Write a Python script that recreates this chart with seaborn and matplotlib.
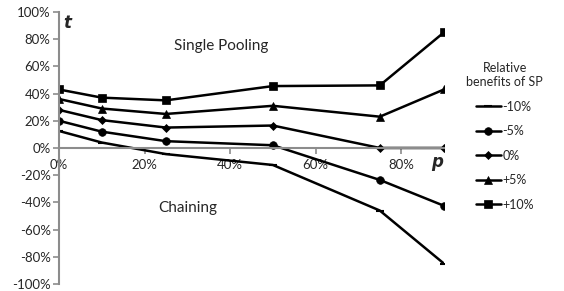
import pandas as pd
import numpy as np
import matplotlib.pyplot as plt
import seaborn as sns

# share of p (x axis)
p_values = [0.0, 0.10, 0.25, 0.50, 0.75, 0.90]

# t values for each relative benefit of SP
minus10 = [0.125, 0.04, -0.045, -0.125, -0.46, -0.85]
minus5 = [0.20, 0.12, 0.05, 0.02, -0.235, -0.425]
zero = [0.28, 0.205, 0.15, 0.165, 0.0, 0.0]
plus5 = [0.36, 0.29, 0.25, 0.31, 0.23, 0.43]
plus10 = [0.43, 0.37, 0.35, 0.455, 0.46, 0.85]

series_names = ["-10%", "-5%", "0%", "+5%", "+10%"]
series_values = [minus10, minus5, zero, plus5, plus10]

rows = []
for name, vals in zip(series_names, series_values):
    for p, t in zip(p_values, vals):
        rows.append({"p": p, "t": t, "series": name})
df = pd.DataFrame(rows)

sns.set_style("white")
plt.rcParams['font.family'] = ['Lato', 'DejaVu Sans']

fig = plt.figure(figsize=(5.64, 2.91), dpi=100)
ax = fig.add_axes([0.1046, 0.024, 0.6826, 0.935])

marker_map = {"-10%": "_", "-5%": "o", "0%": "D", "+5%": "^", "+10%": "s"}
size_map = {"-10%": 6, "-5%": 5.5, "0%": 4, "+5%": 5.5, "+10%": 5.5}

for name in series_names:
    sub = df[df["series"] == name]
    sns.lineplot(data=sub, x="p", y="t", ax=ax, color="black", lw=1.8,
                 marker=marker_map[name], markersize=size_map[name],
                 markeredgewidth=1.5 if name == "-10%" else 0.5,
                 markeredgecolor="black", label=name)

ax.set_xlim(0, 0.9)
ax.set_ylim(-1.0, 1.0)
ax.set_xlabel("")
ax.set_ylabel("")

gray = "#8c8c8c"
for s in ["top", "right"]:
    ax.spines[s].set_visible(False)
ax.spines["left"].set_color(gray)
ax.spines["left"].set_linewidth(1.5)
ax.spines["bottom"].set_position(("data", 0))
ax.spines["bottom"].set_color(gray)
ax.spines["bottom"].set_linewidth(1.5)

ax.set_yticks(np.arange(-1.0, 1.01, 0.2))
ax.set_yticklabels([f"{v:.0f}%" for v in np.arange(-100, 101, 20)])
ax.set_xticks([0, 0.2, 0.4, 0.6, 0.8])
ax.set_xticklabels(["0%", "20%", "40%", "60%", "80%"])
ax.tick_params(axis="y", direction="out", length=4, color=gray, width=1.2,
               labelsize=9.5, pad=2)
ax.tick_params(axis="x", direction="out", length=4, color=gray, width=1.2,
               labelsize=9.5, pad=4)
ax.tick_params(left=True, bottom=True)

ax.text(0.02, 0.92, "t", fontsize=12, fontweight="bold", fontstyle="italic",
        family="DejaVu Sans", ha="center", va="center")
ax.text(0.885, -0.1, "p", fontsize=12, fontweight="bold", fontstyle="italic",
        family="DejaVu Sans", ha="center", va="center")
ax.text(0.38, 0.75, "Single Pooling", fontsize=11, ha="center", va="center")
ax.text(0.30, -0.44, "Chaining", fontsize=11, ha="center", va="center")

handles, labels = ax.get_legend_handles_labels()
leg = ax.legend(handles, labels, title="Relative\nbenefits of SP", frameon=False,
                loc="upper center", bbox_to_anchor=(0.895, 0.825),
                bbox_transform=fig.transFigure, fontsize=9,
                title_fontsize=9, handlelength=2.0, labelspacing=1.0,
                handletextpad=0.1)
leg.get_title().set_multialignment("center")

fig.savefig("out.png", dpi=100)
